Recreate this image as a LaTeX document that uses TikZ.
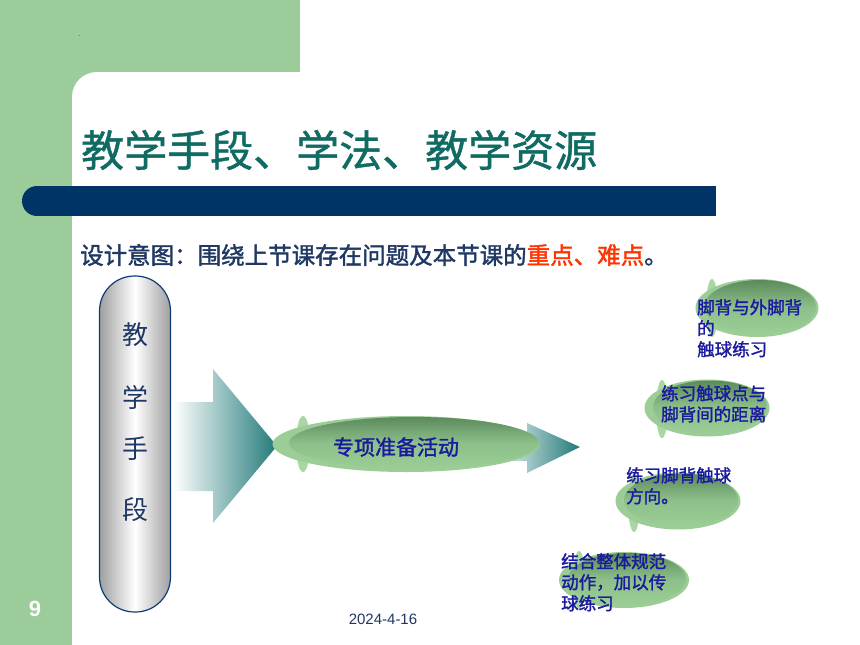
\documentclass[tikz,border=0pt]{standalone}
\usepackage{fontspec}
\setmainfont{Liberation Sans}
\newfontfamily\cjk{Noto Sans CJK SC}
\newfontfamily\cjkm[FakeBold=1]{Noto Sans CJK SC}
\newfontfamily\cjkb[FakeBold=1.6]{Noto Sans CJK SC}
\usetikzlibrary{shapes.geometric}
\definecolor{bggreen}{RGB}{155,204,154}
\definecolor{titleteal}{RGB}{16,107,99}
\definecolor{barblue}{RGB}{0,51,102}
\definecolor{subnavy}{RGB}{31,56,100}
\definecolor{hired}{RGB}{255,51,0}
\definecolor{pillblue}{RGB}{15,60,120}
\definecolor{elltext}{RGB}{26,26,156}
\definecolor{arrteal}{RGB}{35,122,122}
\definecolor{gdark}{RGB}{92,138,92}
\definecolor{gmid}{RGB}{140,191,138}
\definecolor{glight}{RGB}{156,205,150}
\definecolor{gback}{RGB}{170,214,164}
\tikzset{
  outerell/.style={ellipse, fill=glight, inner sep=0pt},
  innerell/.style={ellipse, inner sep=0pt, top color=gdark, bottom color=glight, middle color=gmid},
  backell/.style={ellipse, fill=gback, inner sep=0pt},
  elltxt/.style={text=elltext, font=\cjkb\fontsize{17.5}{21}\selectfont, align=left, inner sep=0pt},
  pilltxt/.style={text=subnavy, font=\cjk\fontsize{26}{26}\selectfont, inner sep=0pt},
  arrowshade/.style={left color=white, right color=arrteal}
}
\begin{document}
\begin{tikzpicture}[x=1pt,y=-1pt]
\useasboundingbox (0,0) rectangle (860,645);
\fill[white] (0,0) rectangle (860,645);
% green background
\fill[bggreen] (0,0) rectangle (300,72);
\fill[bggreen] (0,0) rectangle (72,645);
\fill[bggreen] (72,72) rectangle (97,97);
\fill[white] (97,97) circle[radius=25];
\fill[white] (97,97) rectangle (130,130);
\fill[gray] (78.5,34.5) rectangle (80,36);
% title
\node[anchor=west, text=titleteal, font=\cjkm\fontsize{43}{43}\selectfont, inner sep=0pt] (title) at (81,150) {教学手段、学法、教学资源};
% bar
\fill[barblue] (37,186) rectangle (716,216);
\fill[barblue] (37,201) circle[radius=15];
% subtitle
\node[anchor=west, text=subnavy, font=\cjkb\fontsize{23.5}{24}\selectfont, inner sep=0pt] (sub) at (80,255) {设计意图：围绕上节课存在问题及本节课的\textcolor{hired}{重点、难点}。};
% pill
\node[draw=pillblue, line width=1.2pt, rounded corners=35pt, minimum width=71pt, minimum height=336pt, left color=gray!75, right color=gray!75, middle color=white, inner sep=0pt] (pill) at (135,444) {};
\node[pilltxt] (p1) at (135,335) {教};
\node[pilltxt] (p2) at (135,397) {学};
\node[pilltxt] (p3) at (135,449) {手};
\node[pilltxt] (p4) at (135,510) {段};
% big arrow
\coordinate (bigtip) at (277,446);
\shade[arrowshade] (173,402) -- (213,402) -- (213,369) -- (bigtip) -- (213,523) -- (213,491) -- (173,491) -- cycle;
% small arrow
\coordinate (smalltip) at (580,447);
\shade[arrowshade] (490,434) -- (527,434) -- (527,423) -- (smalltip) -- (527,473) -- (527,461) -- (490,461) -- cycle;
% central ellipse
\node[backell, minimum width=14pt, minimum height=56pt] (cback) at (303,444) {};
\node[outerell, minimum width=267pt, minimum height=56pt] (cout) at (406,444) {};
\node[innerell, minimum width=250pt, minimum height=52pt] (cin) at (414,443) {};
\node[text=elltext, font=\cjkb\fontsize{21}{21}\selectfont, inner sep=0pt] (ctext) at (396,447) {专项准备活动};
% right ellipses
\node[backell, minimum width=12pt, minimum height=58pt] (b1) at (712,308) {};
\node[outerell, minimum width=123pt, minimum height=58pt] (o1) at (757,308) {};
\node[innerell, minimum width=112pt, minimum height=54pt] (i1) at (760,307) {};
\node[elltxt, anchor=north west] (t1) at (697,299) {脚背与外脚背\\的\\触球练习};

\node[backell, minimum width=12pt, minimum height=58pt] (b2) at (662,409) {};
\node[outerell, minimum width=125pt, minimum height=57pt] (o2) at (707,408) {};
\node[innerell, minimum width=114pt, minimum height=53pt] (i2) at (710,407) {};
\node[elltxt, anchor=north west] (t2) at (661,385) {练习触球点与\\脚背间的距离};

\node[backell, minimum width=12pt, minimum height=58pt] (b3) at (634,503) {};
\node[outerell, minimum width=125pt, minimum height=57pt] (o3) at (678,501) {};
\node[innerell, minimum width=114pt, minimum height=53pt] (i3) at (681,500) {};
\node[elltxt, anchor=north west] (t3) at (626,467) {练习脚背触球\\方向。};

\node[backell, minimum width=12pt, minimum height=58pt] (b4) at (579,580) {};
\node[outerell, minimum width=130pt, minimum height=56pt] (o4) at (624,580) {};
\node[innerell, minimum width=118pt, minimum height=52pt] (i4) at (627,579) {};
\node[elltxt, anchor=north west] (t4) at (561,553) {结合整体规范\\动作，加以传\\球练习};
% page number and date
\node[text=white, font=\bfseries\fontsize{22}{22}\selectfont, inner sep=0pt] (num) at (35,609) {9};
\node[text=subnavy, font=\fontsize{15}{15}\selectfont, inner sep=0pt] (date) at (383,619) {2024-4-16};
\end{tikzpicture}
\end{document}
